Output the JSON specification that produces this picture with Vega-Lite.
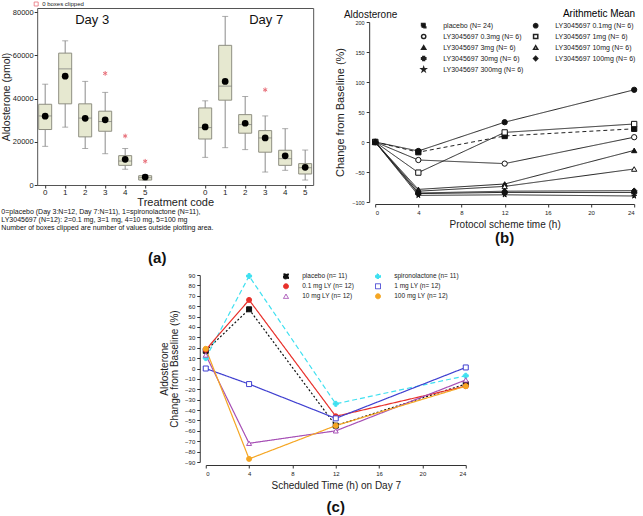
{
  "$schema": "https://vega.github.io/schema/vega-lite/v6.json",
  "padding": {"left": 0, "top": 0, "right": 0, "bottom": 0},
  "config": {
    "font": "Liberation Sans",
    "view": {"stroke": null},
    "axis": {"grid": false, "domainColor": "#333", "tickColor": "#333", "labelColor": "#222", "titleColor": "#222", "titleFontWeight": "normal"},
    "title": {"color": "#111"},
    "legend": {"labelColor": "#222"}
  },
  "datasets": {
    "boxA": [
      {"slot": "D3-0", "lo": 17900, "q1": 25700, "median": 32000, "q3": 37400, "hi": 46700, "mean": 31900},
      {"slot": "D3-1", "lo": 26800, "q1": 37600, "median": 53800, "q3": 61100, "hi": 66800, "mean": 50400},
      {"slot": "D3-2", "lo": 16900, "q1": 22300, "median": 31000, "q3": 37600, "hi": 48000, "mean": 30900},
      {"slot": "D3-3", "lo": 14500, "q1": 24900, "median": 29400, "q3": 34200, "hi": 42900, "mean": 30200},
      {"slot": "D3-4", "lo": 7300, "q1": 9100, "median": 11100, "q3": 13600, "hi": 16900, "mean": 11900},
      {"slot": "D3-5", "lo": 2200, "q1": 2300, "median": 3400, "q3": 4300, "hi": 4600, "mean": 3700},
      {"slot": "D7-0", "lo": 12800, "q1": 21300, "median": 26600, "q3": 35700, "hi": 39000, "mean": 26900},
      {"slot": "D7-1", "lo": 17300, "q1": 39300, "median": 45800, "q3": 64700, "hi": 78100, "mean": 48000},
      {"slot": "D7-2", "lo": 16400, "q1": 24000, "median": 28000, "q3": 32600, "hi": 41000, "mean": 28600},
      {"slot": "D7-3", "lo": 6000, "q1": 15200, "median": 21800, "q3": 25200, "hi": 32000, "mean": 21800},
      {"slot": "D7-4", "lo": 6800, "q1": 9100, "median": 12200, "q3": 16100, "hi": 26100, "mean": 13500},
      {"slot": "D7-5", "lo": 2300, "q1": 5100, "median": 8000, "q3": 9900, "hi": 16200, "mean": 8200}
    ],
    "outA": [
      {"slot": "D3-3", "value": 51700},
      {"slot": "D3-4", "value": 22700},
      {"slot": "D3-5", "value": 11000},
      {"slot": "D7-3", "value": 44100}
    ],
    "dayA": [
      {"slot": "D3-2", "label": "Day 3", "y": 76500},
      {"slot": "D7-3", "label": "Day 7", "y": 76500}
    ],
    "b": [
      {"series": "placebo (N= 24)", "time": 0, "change": 0},
      {"series": "placebo (N= 24)", "time": 4, "change": -17},
      {"series": "placebo (N= 24)", "time": 12, "change": 10},
      {"series": "placebo (N= 24)", "time": 24, "change": 22},
      {"series": "LY3045697 0.1mg (N= 6)", "time": 0, "change": 0},
      {"series": "LY3045697 0.1mg (N= 6)", "time": 4, "change": -15},
      {"series": "LY3045697 0.1mg (N= 6)", "time": 12, "change": 33},
      {"series": "LY3045697 0.1mg (N= 6)", "time": 24, "change": 87},
      {"series": "LY3045697 0.3mg (N= 6)", "time": 0, "change": 0},
      {"series": "LY3045697 0.3mg (N= 6)", "time": 4, "change": -30},
      {"series": "LY3045697 0.3mg (N= 6)", "time": 12, "change": -36},
      {"series": "LY3045697 0.3mg (N= 6)", "time": 24, "change": 8},
      {"series": "LY3045697 1mg (N= 6)", "time": 0, "change": 0},
      {"series": "LY3045697 1mg (N= 6)", "time": 4, "change": -51},
      {"series": "LY3045697 1mg (N= 6)", "time": 12, "change": 16},
      {"series": "LY3045697 1mg (N= 6)", "time": 24, "change": 30},
      {"series": "LY3045697 3mg (N= 6)", "time": 0, "change": 0},
      {"series": "LY3045697 3mg (N= 6)", "time": 4, "change": -79},
      {"series": "LY3045697 3mg (N= 6)", "time": 12, "change": -70},
      {"series": "LY3045697 3mg (N= 6)", "time": 24, "change": -14},
      {"series": "LY3045697 10mg (N= 6)", "time": 0, "change": 0},
      {"series": "LY3045697 10mg (N= 6)", "time": 4, "change": -82},
      {"series": "LY3045697 10mg (N= 6)", "time": 12, "change": -74},
      {"series": "LY3045697 10mg (N= 6)", "time": 24, "change": -45},
      {"series": "LY3045697 30mg (N= 6)", "time": 0, "change": 0},
      {"series": "LY3045697 30mg (N= 6)", "time": 4, "change": -86},
      {"series": "LY3045697 30mg (N= 6)", "time": 12, "change": -84},
      {"series": "LY3045697 30mg (N= 6)", "time": 24, "change": -84},
      {"series": "LY3045697 100mg (N= 6)", "time": 0, "change": 0},
      {"series": "LY3045697 100mg (N= 6)", "time": 4, "change": -85},
      {"series": "LY3045697 100mg (N= 6)", "time": 12, "change": -82},
      {"series": "LY3045697 100mg (N= 6)", "time": 24, "change": -81},
      {"series": "LY3045697 300mg (N= 6)", "time": 0, "change": 0},
      {"series": "LY3045697 300mg (N= 6)", "time": 4, "change": -89},
      {"series": "LY3045697 300mg (N= 6)", "time": 12, "change": -88},
      {"series": "LY3045697 300mg (N= 6)", "time": 24, "change": -90}
    ],
    "c": [
      {"series": "placebo (n= 11)", "time": 0, "change": 17},
      {"series": "placebo (n= 11)", "time": 4, "change": 57},
      {"series": "placebo (n= 11)", "time": 12, "change": -55},
      {"series": "placebo (n= 11)", "time": 24, "change": -15},
      {"series": "spironolactone (n= 11)", "time": 0, "change": 10},
      {"series": "spironolactone (n= 11)", "time": 4, "change": 89},
      {"series": "spironolactone (n= 11)", "time": 12, "change": -34},
      {"series": "spironolactone (n= 11)", "time": 24, "change": -7},
      {"series": "0.1 mg LY (n= 12)", "time": 0, "change": 18},
      {"series": "0.1 mg LY (n= 12)", "time": 4, "change": 66},
      {"series": "0.1 mg LY (n= 12)", "time": 12, "change": -46},
      {"series": "0.1 mg LY (n= 12)", "time": 24, "change": -17},
      {"series": "1 mg LY (n= 12)", "time": 0, "change": 0},
      {"series": "1 mg LY (n= 12)", "time": 4, "change": -15},
      {"series": "1 mg LY (n= 12)", "time": 12, "change": -48},
      {"series": "1 mg LY (n= 12)", "time": 24, "change": 1},
      {"series": "10 mg LY (n= 12)", "time": 0, "change": 13},
      {"series": "10 mg LY (n= 12)", "time": 4, "change": -72},
      {"series": "10 mg LY (n= 12)", "time": 12, "change": -60},
      {"series": "10 mg LY (n= 12)", "time": 24, "change": -11},
      {"series": "100 mg LY (n= 12)", "time": 0, "change": 19},
      {"series": "100 mg LY (n= 12)", "time": 4, "change": -87},
      {"series": "100 mg LY (n= 12)", "time": 12, "change": -55},
      {"series": "100 mg LY (n= 12)", "time": 24, "change": -17}
    ]
  },
  "resolve": {
    "scale": {"color": "independent", "fill": "independent", "shape": "independent", "stroke": "independent", "strokeDash": "independent"},
    "legend": {"color": "independent", "fill": "independent", "shape": "independent", "stroke": "independent", "strokeDash": "independent"}
  },
  "spacing": 5,
  "center": true,
  "vconcat": [
    {
      "spacing": 20,
      "resolve": {
        "scale": {"color": "independent", "fill": "independent", "shape": "independent", "stroke": "independent", "strokeDash": "independent"},
        "legend": {"color": "independent", "fill": "independent", "shape": "independent", "stroke": "independent", "strokeDash": "independent"}
      },
      "hconcat": [
        {
          "title": {"text": "(a)", "orient": "bottom", "fontSize": 15, "fontWeight": "bold", "anchor": "middle", "offset": 19},
          "resolve": {
            "scale": {"color": "independent", "fill": "independent", "shape": "independent", "stroke": "independent", "strokeDash": "independent"},
            "legend": {"color": "independent", "fill": "independent", "shape": "independent", "stroke": "independent", "strokeDash": "independent"}
          },
          "vconcat": [
            {
              "width": 276,
              "height": 177,
              "view": {"stroke": "#555", "strokeWidth": 1},
              "title": {
                "text": [
                  "0=placebo (Day 3:N=12, Day 7:N=11), 1=spironolactone (N=11),",
                  "LY3045697 (N=12): 2=0.1 mg, 3=1 mg, 4=10 mg, 5=100 mg",
                  "Number of boxes clipped are number of values outside plotting area."
                ],
                "orient": "bottom", "anchor": "start", "frame": "bounds", "fontSize": 7, "fontWeight": "normal", "lineHeight": 8, "offset": 1
              },
              "data": {"name": "boxA"},
              "encoding": {
                "x": {
                  "field": "slot", "type": "nominal",
                  "scale": {"domain": ["D3-0", "D3-1", "D3-2", "D3-3", "D3-4", "D3-5", "g1", "g2", "D7-0", "D7-1", "D7-2", "D7-3", "D7-4", "D7-5"], "paddingInner": 0.35, "paddingOuter": 0.075},
                  "axis": {"values": ["D3-0", "D3-1", "D3-2", "D3-3", "D3-4", "D3-5", "D7-0", "D7-1", "D7-2", "D7-3", "D7-4", "D7-5"], "labelExpr": "substring(datum.value, 3)", "labelAngle": 0, "title": "Treatment code", "titleFontSize": 11, "labelFontSize": 8, "tickSize": 3, "titlePadding": 0, "labelPadding": 0, "domain": false}
                }
              },
              "layer": [
                {
                  "mark": {"type": "rule", "color": "#8a8a8a", "strokeWidth": 1},
                  "encoding": {
                    "y": {"field": "lo", "type": "quantitative", "scale": {"domain": [0, 82000], "nice": false}, "axis": {"values": [0, 10000, 20000, 30000, 40000, 50000, 60000, 70000, 80000], "labelExpr": "datum.value % 20000 == 0 ? datum.label : ''", "format": "d", "labelOverlap": false, "labelBound": false, "title": "Aldosterone (pmol)", "titleFontSize": 10.5, "labelFontSize": 7.5, "tickSize": 3, "labelPadding": 1, "titlePadding": 1, "domain": false}},
                    "y2": {"field": "hi"}
                  }
                },
                {
                  "mark": {"type": "tick", "color": "#8a8a8a", "size": 6, "thickness": 1},
                  "encoding": {"y": {"field": "lo", "type": "quantitative", "scale": {"domain": [0, 82000], "nice": false}}}
                },
                {
                  "mark": {"type": "tick", "color": "#8a8a8a", "size": 6, "thickness": 1},
                  "encoding": {"y": {"field": "hi", "type": "quantitative", "scale": {"domain": [0, 82000], "nice": false}}}
                },
                {
                  "mark": {"type": "bar", "fill": "#e6e8d0", "stroke": "#8f8f82", "strokeWidth": 1},
                  "encoding": {
                    "y": {"field": "q1", "type": "quantitative", "scale": {"domain": [0, 82000], "nice": false}},
                    "y2": {"field": "q3"}
                  }
                },
                {
                  "mark": {"type": "tick", "color": "#777", "thickness": 1, "size": 13},
                  "encoding": {"y": {"field": "median", "type": "quantitative", "scale": {"domain": [0, 82000], "nice": false}}}
                },
                {
                  "mark": {"type": "point", "filled": true, "color": "#000", "size": 45, "opacity": 1},
                  "encoding": {"y": {"field": "mean", "type": "quantitative", "scale": {"domain": [0, 82000], "nice": false}}}
                },
                {
                  "data": {"name": "outA"},
                  "mark": {"type": "point", "filled": false, "size": 22, "strokeWidth": 1, "opacity": 1, "shape": "M0,-1L0,1M-0.87,-0.5L0.87,0.5M-0.87,0.5L0.87,-0.5"},
                  "encoding": {
                    "y": {"field": "value", "type": "quantitative", "scale": {"domain": [0, 82000], "nice": false}},
                    "stroke": {"datum": "0 boxes clipped", "scale": {"range": ["#e8707a"]}, "legend": {"orient": "none", "legendX": -4, "legendY": -7, "title": null, "symbolType": "square", "symbolSize": 16, "symbolStrokeWidth": 0.8, "labelFontSize": 6, "labelOffset": 3}}
                  }
                },
                {
                  "data": {"name": "dayA"},
                  "transform": [{"filter": "datum.label == 'Day 3'"}],
                  "mark": {"type": "text", "fontSize": 13, "color": "#111", "align": "center", "dx": 7},
                  "encoding": {
                    "y": {"field": "y", "type": "quantitative", "scale": {"domain": [0, 82000], "nice": false}},
                    "text": {"field": "label"}
                  }
                },
                {
                  "data": {"name": "dayA"},
                  "transform": [{"filter": "datum.label == 'Day 7'"}],
                  "mark": {"type": "text", "fontSize": 13, "color": "#111", "align": "center", "dx": 1},
                  "encoding": {
                    "y": {"field": "y", "type": "quantitative", "scale": {"domain": [0, 82000], "nice": false}},
                    "text": {"field": "label"}
                  }
                }
              ]
            }
          ]
        },
        {
          "spacing": 0,
          "resolve": {
            "scale": {"color": "independent", "fill": "independent", "shape": "independent", "stroke": "independent", "strokeDash": "independent"},
            "legend": {"color": "independent", "fill": "independent", "shape": "independent", "stroke": "independent", "strokeDash": "independent"}
          },
          "vconcat": [
            {
              "width": 259,
              "height": 1,
              "data": {"values": []},
              "mark": "point"
            },
            {
              "width": 259,
              "height": 180,
              "title": {"text": "(b)", "orient": "bottom", "fontSize": 15, "fontWeight": "bold", "anchor": "middle", "frame": "group", "offset": 2},
              "data": {"name": "b"},
              "encoding": {
                "x": {"field": "time", "type": "quantitative", "scale": {"domain": [0, 24], "nice": false}, "axis": {"values": [0, 4, 8, 12, 16, 20, 24], "title": "Protocol scheme time (h)", "labelFontSize": 6, "titleFontSize": 10, "offset": 2, "tickSize": 3, "titlePadding": 4}},
                "y": {"field": "change", "type": "quantitative", "scale": {"domain": [-100, 200], "nice": false}, "axis": {"values": [-100, -50, 0, 50, 100, 150, 200], "title": "Change from Baseline (%)", "labelFontSize": 5.5, "titleFontSize": 11, "offset": 6, "tickSize": 3, "titlePadding": 6}}
              },
              "layer": [
                {
                  "data": {"values": [{"note": "Aldosterone", "t": -2.9, "c": 212.5}]},
                  "mark": {"type": "text", "fontSize": 10, "color": "#111", "align": "left", "baseline": "middle", "clip": false},
                  "encoding": {
                    "x": {"field": "t", "type": "quantitative"},
                    "y": {"field": "c", "type": "quantitative"},
                    "text": {"field": "note", "type": "nominal"}
                  }
                },
                {
                  "mark": {"type": "line", "color": "#222", "strokeWidth": 1},
                  "encoding": {
                    "detail": {"field": "series"},
                    "strokeDash": {"field": "series", "type": "nominal", "scale": {"domain": ["placebo (N= 24)", "LY3045697 0.3mg (N= 6)", "LY3045697 3mg (N= 6)", "LY3045697 30mg (N= 6)", "LY3045697 300mg (N= 6)", "LY3045697 0.1mg (N= 6)", "LY3045697 1mg (N= 6)", "LY3045697 10mg (N= 6)", "LY3045697 100mg (N= 6)"], "range": [[4, 3], [1, 0], [1, 0], [1, 0], [1, 0], [1, 0], [1, 0], [1, 0], [1, 0]]},
                      "legend": {"orient": "none", "legendX": 45, "legendY": -13, "columns": 2, "title": "Arithmetic Mean", "titleAnchor": "end", "titleFontSize": 10, "titleFontWeight": "normal", "titlePadding": 3, "labelFontSize": 7, "labelAlign": "left", "labelOffset": 16, "symbolSize": 18, "columnPadding": 6, "rowPadding": 0, "encode": {"symbols": {"update": {"stroke": {"value": "#111"}, "strokeWidth": {"value": 1}, "strokeDash": {"value": [1, 0]}}}}}}
                  }
                },
                {
                  "mark": {"type": "point", "filled": true, "stroke": "#111", "strokeWidth": 1, "size": 28, "opacity": 1},
                  "encoding": {
                    "shape": {"field": "series", "type": "nominal", "scale": {"domain": ["placebo (N= 24)", "LY3045697 0.3mg (N= 6)", "LY3045697 3mg (N= 6)", "LY3045697 30mg (N= 6)", "LY3045697 300mg (N= 6)", "LY3045697 0.1mg (N= 6)", "LY3045697 1mg (N= 6)", "LY3045697 10mg (N= 6)", "LY3045697 100mg (N= 6)"], "range": ["square", "circle", "triangle-up", "cross", "M0,-1L0.22,-0.31L0.95,-0.31L0.36,0.12L0.59,0.81L0,0.38L-0.59,0.81L-0.36,0.12L-0.95,-0.31L-0.22,-0.31Z", "circle", "square", "triangle-up", "diamond"]},
                      "legend": {"orient": "none", "legendX": 45, "legendY": -13, "columns": 2, "title": "Arithmetic Mean", "titleAnchor": "end", "titleFontSize": 10, "titleFontWeight": "normal", "titlePadding": 3, "labelFontSize": 7, "labelAlign": "left", "labelOffset": 16, "symbolSize": 18, "columnPadding": 6, "rowPadding": 0, "encode": {"symbols": {"update": {"stroke": {"value": "#111"}, "strokeWidth": {"value": 1}, "strokeDash": {"value": [1, 0]}}}}}},
                    "fill": {"field": "series", "type": "nominal", "scale": {"domain": ["placebo (N= 24)", "LY3045697 0.3mg (N= 6)", "LY3045697 3mg (N= 6)", "LY3045697 30mg (N= 6)", "LY3045697 300mg (N= 6)", "LY3045697 0.1mg (N= 6)", "LY3045697 1mg (N= 6)", "LY3045697 10mg (N= 6)", "LY3045697 100mg (N= 6)"], "range": ["#111", "#fff", "#111", "#111", "#111", "#111", "#fff", "#fff", "#111"]},
                      "legend": {"orient": "none", "legendX": 45, "legendY": -13, "columns": 2, "title": "Arithmetic Mean", "titleAnchor": "end", "titleFontSize": 10, "titleFontWeight": "normal", "titlePadding": 3, "labelFontSize": 7, "labelAlign": "left", "labelOffset": 16, "symbolSize": 18, "columnPadding": 6, "rowPadding": 0, "encode": {"symbols": {"update": {"stroke": {"value": "#111"}, "strokeWidth": {"value": 1}, "strokeDash": {"value": [1, 0]}}}}}}
                  }
                }
              ]
            }
          ]
        }
      ]
    },
    {
      "width": 260,
      "height": 187,
      "title": {"text": "(c)", "orient": "bottom", "fontSize": 15, "fontWeight": "bold", "anchor": "middle", "frame": "group", "offset": 10},
      "data": {"name": "c"},
      "encoding": {
        "x": {"field": "time", "type": "quantitative", "scale": {"domain": [0, 24], "nice": false}, "axis": {"values": [0, 4, 8, 12, 16, 20, 24], "title": "Scheduled Time (h) on Day 7", "labelFontSize": 6, "titleFontSize": 10, "offset": 3, "tickSize": 3, "titlePadding": 4}},
        "y": {"field": "change", "type": "quantitative", "scale": {"domain": [-90, 90], "nice": false}, "axis": {"values": [-90, -80, -70, -60, -50, -40, -30, -20, -10, 0, 10, 20, 30, 40, 50, 60, 70, 80, 90], "title": ["Aldosterone", "Change from Baseline (%)"], "labelFontSize": 6, "titleFontSize": 10, "offset": 6, "tickSize": 3, "titlePadding": 5, "titleLineHeight": 10}}
      },
      "layer": [
        {
          "mark": {"type": "line", "strokeWidth": 1.2},
          "encoding": {
            "stroke": {"field": "series", "type": "nominal", "scale": {"domain": ["placebo (n= 11)", "0.1 mg LY (n= 12)", "10 mg LY (n= 12)", "spironolactone (n= 11)", "1 mg LY (n= 12)", "100 mg LY (n= 12)"], "range": ["#111111", "#e8302a", "#a64fb5", "#3fe0f0", "#3f3fd0", "#f5a623"]},
              "legend": {"orient": "none", "legendX": 77, "legendY": -2, "columns": 2, "title": null, "labelFontSize": 6.5, "labelAlign": "left", "labelOffset": 13, "symbolSize": 25, "symbolStrokeWidth": 1, "columnPadding": 18, "rowPadding": 0}},
            "strokeDash": {"field": "series", "type": "nominal", "scale": {"domain": ["placebo (n= 11)", "0.1 mg LY (n= 12)", "10 mg LY (n= 12)", "spironolactone (n= 11)", "1 mg LY (n= 12)", "100 mg LY (n= 12)"], "range": [[2, 2], [1, 0], [1, 0], [5, 3], [1, 0], [1, 0]]}, "legend": null}
          }
        },
        {
          "mark": {"type": "point", "size": 25, "strokeWidth": 1, "opacity": 1},
          "encoding": {
            "stroke": {"field": "series", "type": "nominal", "scale": {"domain": ["placebo (n= 11)", "0.1 mg LY (n= 12)", "10 mg LY (n= 12)", "spironolactone (n= 11)", "1 mg LY (n= 12)", "100 mg LY (n= 12)"], "range": ["#111111", "#e8302a", "#a64fb5", "#3fe0f0", "#3f3fd0", "#f5a623"]},
              "legend": {"orient": "none", "legendX": 77, "legendY": -2, "columns": 2, "title": null, "labelFontSize": 6.5, "labelAlign": "left", "labelOffset": 13, "symbolSize": 25, "symbolStrokeWidth": 1, "columnPadding": 18, "rowPadding": 0}},
            "shape": {"field": "series", "type": "nominal", "scale": {"domain": ["placebo (n= 11)", "0.1 mg LY (n= 12)", "10 mg LY (n= 12)", "spironolactone (n= 11)", "1 mg LY (n= 12)", "100 mg LY (n= 12)"], "range": ["square", "circle", "triangle-up", "cross", "square", "circle"]},
              "legend": {"orient": "none", "legendX": 77, "legendY": -2, "columns": 2, "title": null, "labelFontSize": 6.5, "labelAlign": "left", "labelOffset": 13, "symbolSize": 25, "symbolStrokeWidth": 1, "columnPadding": 18, "rowPadding": 0}},
            "fill": {"field": "series", "type": "nominal", "scale": {"domain": ["placebo (n= 11)", "0.1 mg LY (n= 12)", "10 mg LY (n= 12)", "spironolactone (n= 11)", "1 mg LY (n= 12)", "100 mg LY (n= 12)"], "range": ["#111111", "#e8302a", "#ffffff", "#3fe0f0", "#ffffff", "#f5a623"]},
              "legend": {"orient": "none", "legendX": 77, "legendY": -2, "columns": 2, "title": null, "labelFontSize": 6.5, "labelAlign": "left", "labelOffset": 13, "symbolSize": 25, "symbolStrokeWidth": 1, "columnPadding": 18, "rowPadding": 0}}
          }
        }
      ]
    }
  ]
}
